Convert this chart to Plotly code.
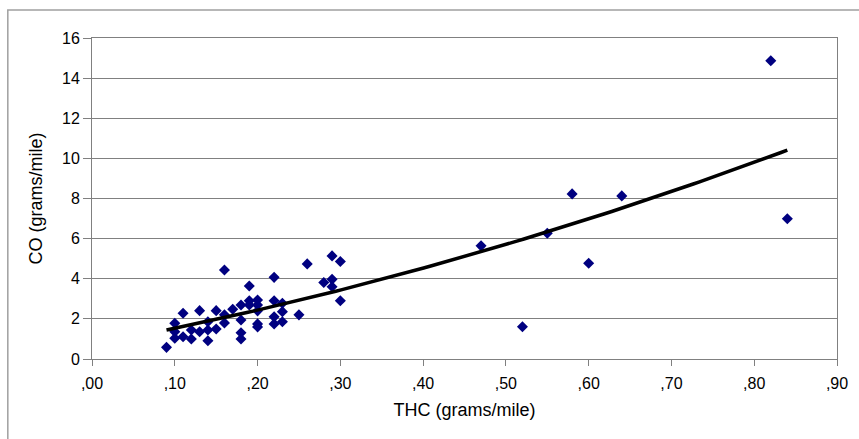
import numpy as np
import plotly.graph_objects as go

# THC (grams/mile) and CO (grams/mile)
thc = [0.09, 0.10, 0.10, 0.10, 0.11, 0.11, 0.12, 0.12, 0.13, 0.13,
       0.14, 0.14, 0.14, 0.15, 0.15, 0.16, 0.16, 0.16, 0.17, 0.18,
       0.18, 0.18, 0.18, 0.19, 0.19, 0.19, 0.20, 0.20, 0.20, 0.20,
       0.20, 0.22, 0.22, 0.22, 0.22, 0.23, 0.23, 0.23, 0.25, 0.26,
       0.28, 0.29, 0.29, 0.29, 0.30, 0.30,
       0.47, 0.52, 0.55, 0.58, 0.60, 0.64, 0.82, 0.84]
co = [0.58, 1.78, 1.36, 1.03, 2.28, 1.11, 1.45, 1.00, 2.41, 1.36,
      1.86, 1.45, 0.91, 2.41, 1.50, 4.44, 2.20, 1.80, 2.48, 2.69,
      1.94, 1.31, 1.00, 3.64, 2.90, 2.69, 2.94, 2.69, 2.40, 1.75,
      1.60, 4.07, 2.90, 2.10, 1.75, 2.78, 2.36, 1.86, 2.20, 4.74,
      3.81, 5.14, 3.97, 3.60, 4.86, 2.90,
      5.64, 1.61, 6.27, 8.23, 4.77, 8.13, 14.87, 6.99]

x_tickvals = [0.0, 0.1, 0.2, 0.3, 0.4, 0.5, 0.6, 0.7, 0.8, 0.9]
x_ticktext = [",00", ",10", ",20", ",30", ",40", ",50", ",60", ",70", ",80", ",90"]
y_tickvals = [0, 2, 4, 6, 8, 10, 12, 14, 16]

# polynomial (order 2) trendline computed from the data
coef = np.polyfit(thc, co, 2)
tx = np.linspace(min(thc), max(thc), 100)
ty = np.polyval(coef, tx)

FAM = "Liberation Sans, Arial, sans-serif"
tickfont = dict(family=FAM, size=16, color="#000000")
titlefont = dict(family=FAM, size=18, color="#000000")

fig = go.Figure()
fig.add_trace(go.Scatter(
    x=thc, y=co, mode="markers",
    marker=dict(symbol="diamond", size=8.5, color="#000080", line=dict(width=0)),
    showlegend=False, hoverinfo="x+y"))
fig.add_trace(go.Scatter(
    x=tx, y=ty, mode="lines", line=dict(color="#000000", width=3.5),
    showlegend=False, hoverinfo="skip"))

fig.update_layout(
    width=859, height=439,
    margin=dict(l=92, r=22, t=38, b=80, autoexpand=False),
    paper_bgcolor="white", plot_bgcolor="white",
    font=tickfont,
    xaxis=dict(range=[0, 0.9], tickvals=x_tickvals, ticktext=x_ticktext,
               showgrid=False, zeroline=False, showline=True, linecolor="#808080",
               linewidth=1, mirror=True, ticks="outside", ticklen=6, tickcolor="#808080",
               ticklabelstandoff=4,
               title=dict(text="THC (grams/mile)", font=titlefont, standoff=12),
               tickfont=tickfont),
    yaxis=dict(range=[0, 16], tickvals=y_tickvals,
               showgrid=True, gridcolor="#808080", gridwidth=1, zeroline=False,
               showline=True, linecolor="#808080", linewidth=1, mirror=True,
               ticks="outside", ticklen=8, tickcolor="#808080",
               title=dict(text="CO (grams/mile)", font=titlefont, standoff=14),
               tickfont=tickfont),
    shapes=[dict(type="rect", xref="paper", yref="paper",
                 x0=-0.113, x1=1.2, y0=-0.5, y1=1.087,
                 line=dict(color="#a0a0a0", width=1.5), layer="below")],
)

fig.write_html("out.html")
